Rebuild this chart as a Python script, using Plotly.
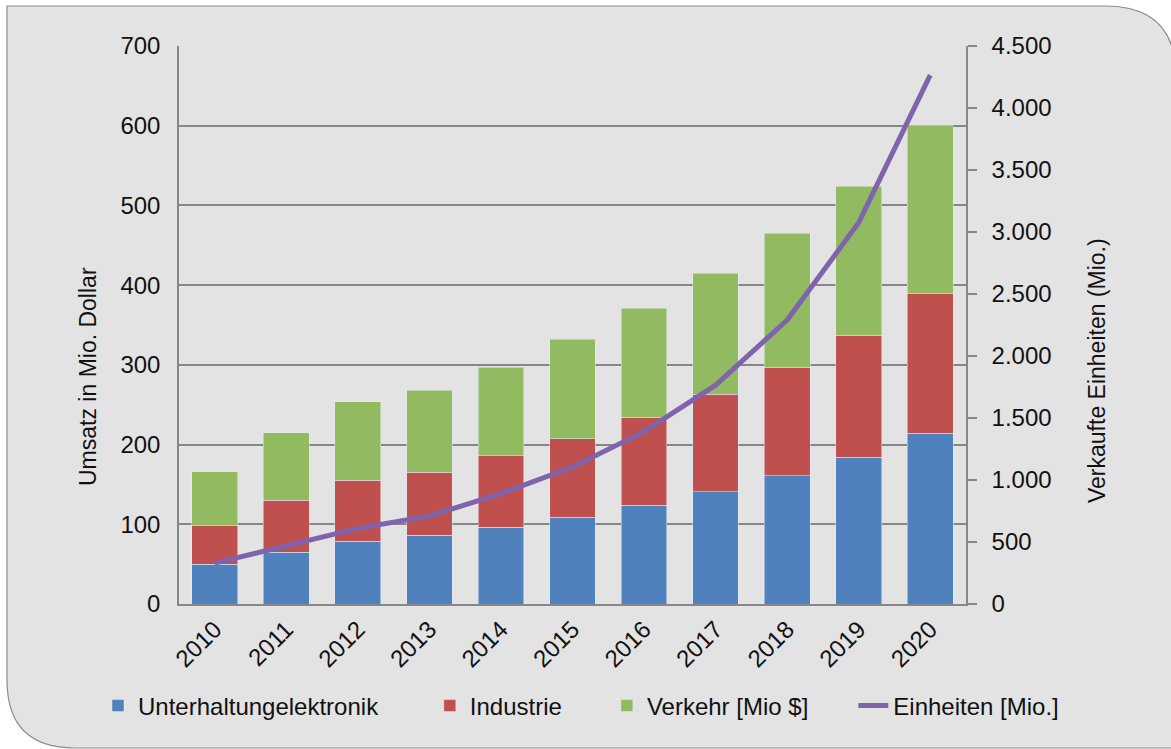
import plotly.graph_objects as go

years = ["2010", "2011", "2012", "2013", "2014", "2015", "2016", "2017", "2018", "2019", "2020"]
unterhaltung = [50, 65, 79, 86, 96, 109, 124, 141, 161, 184, 214]
industrie = [48, 65, 76, 79, 90, 98, 110, 122, 136, 153, 175]
verkehr = [68, 85, 99, 103, 111, 125, 137, 152, 168, 187, 211]
einheiten = [330, 465, 610, 710, 890, 1105, 1390, 1765, 2290, 3075, 4265]

W, H = 1171, 749
L, R, T, B = 179, 1171 - 966, 46, 749 - 604
PW, PH = W - L - R, H - T - B

def px(x):
    return (x - L) / PW

def py(y):
    return (H - B - y) / PH

FONT = "Arial, Liberation Sans, sans-serif"
GRID = "#878787"
FS = 24
PAD = "\u00a0"

fig = go.Figure()
fig.add_bar(x=years, y=unterhaltung, name="Unterhaltungelektronik" + PAD * 7, marker_color="#4F81BD")
fig.add_bar(x=years, y=industrie, name="Industrie" + PAD * 6, marker_color="#C0504D")
fig.add_bar(x=years, y=verkehr, name="Verkehr [Mio $]" + PAD * 6, marker_color="#92BA61")
fig.add_scatter(x=years, y=einheiten, name="Einheiten [Mio.]", mode="lines", yaxis="y2",
                line=dict(color="#7F64AB", width=5))

card = (f"M {px(7)},{py(6)} L {px(1105)},{py(6)} Q {px(1176)},{py(6)} {px(1176)},{py(76)} "
        f"L {px(1176)},{py(748)} L {px(75)},{py(748)} Q {px(7)},{py(748)} {px(7)},{py(680)} Z")

fig.update_layout(
    width=W, height=H,
    margin=dict(l=L, r=R, t=T, b=B, autoexpand=False),
    paper_bgcolor="white",
    plot_bgcolor="rgba(0,0,0,0)",
    font=dict(family=FONT, size=FS, color="#111111"),
    barmode="stack",
    bargap=0.36,
    separators=",.",
    showlegend=True,
    legend=dict(orientation="h", x=px(98), xanchor="left", y=py(706), yanchor="middle",
                traceorder="normal", font=dict(size=FS), bgcolor="rgba(0,0,0,0)"),
    shapes=[dict(type="path", path=card, xref="paper", yref="paper", layer="below",
                 fillcolor="#E3E3E3", line=dict(color="#8C8C8C", width=1.2))],
    annotations=[
        dict(text="Umsatz in Mio. Dollar", textangle=-90, xref="paper", yref="paper",
             x=px(88), y=py(377), xanchor="center", yanchor="middle", showarrow=False,
             font=dict(size=23)),
        dict(text="Verkaufte Einheiten (Mio.)", textangle=-90, xref="paper", yref="paper",
             x=px(1097), y=py(371), xanchor="center", yanchor="middle", showarrow=False,
             font=dict(size=23)),
    ],
    xaxis=dict(type="category", tickangle=-45, showline=True, linecolor=GRID, linewidth=1.5,
               ticks="", showgrid=False, tickfont=dict(size=FS)),
    yaxis=dict(range=[0, 700], dtick=100, showgrid=True, gridcolor=GRID, gridwidth=1.5,
               showline=True, linecolor=GRID, linewidth=1.5, ticks="", zeroline=False,
               ticklabelstandoff=12, tickfont=dict(size=FS)),
    yaxis2=dict(range=[0, 4500], dtick=500, overlaying="y", side="right", showgrid=False,
                showline=True, linecolor=GRID, linewidth=1.5, ticks="outside", ticklen=9,
                tickcolor=GRID, tickwidth=1.5, tickformat=",d", zeroline=False,
                ticklabelstandoff=10, tickfont=dict(size=FS)),
)

fig.write_html("out.html", config={"displayModeBar": False},
               post_script="document.body.style.margin='0';")
